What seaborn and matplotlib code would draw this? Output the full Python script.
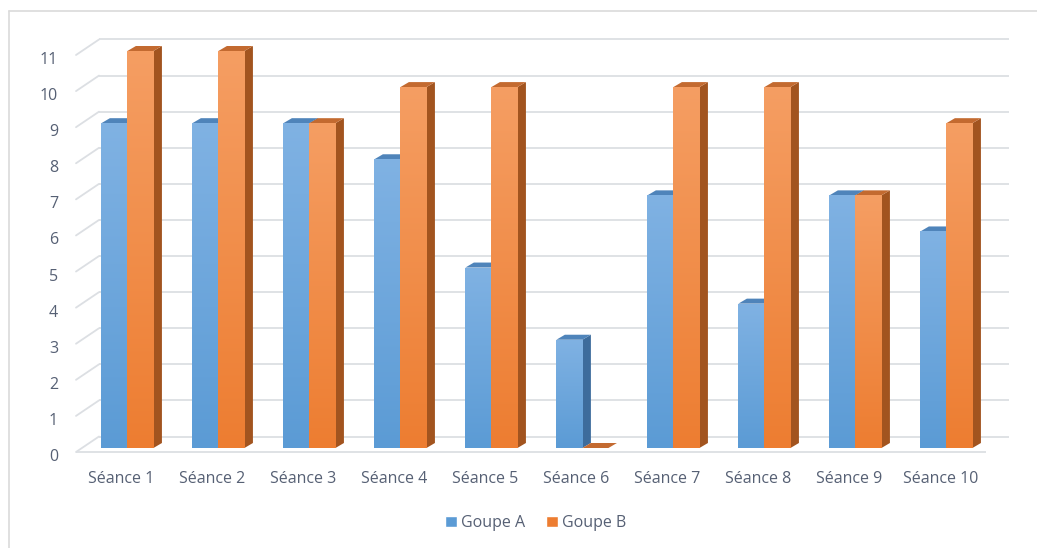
import numpy as np
import pandas as pd
import matplotlib
matplotlib.use("Agg")
import matplotlib.pyplot as plt
import matplotlib.transforms as mtransforms
from matplotlib.patches import Polygon
from matplotlib.lines import Line2D
from matplotlib.colors import LinearSegmentedColormap, to_rgb
import seaborn as sns

# ---- data -------------------------------------------------------------
seances = [f"Séance {i}" for i in range(1, 11)]
groupe_a = [9, 9, 9, 8, 5, 3, 7, 4, 7, 6]
groupe_b = [11, 11, 9, 10, 10, 0, 10, 10, 7, 9]
groups = ["Goupe A", "Goupe B"]
y_ticks = list(range(0, 12))

df = pd.DataFrame({
    "Séance": seances * 2,
    "Groupe": [groups[0]] * len(seances) + [groups[1]] * len(seances),
    "Score": groupe_a + groupe_b,
})

# ---- style --------------------------------------------------------------
sns.set_theme(style="white")
plt.rcParams["font.family"] = ["Open Sans", "DejaVu Sans"]
TEXT = "#566074"
GRID = "#dcdfe3"
FS = 11.5

base = {groups[0]: "#5B9BD5", groups[1]: "#ED7D31"}
light = {groups[0]: "#80B2E3", groups[1]: "#F59E63"}
top_c = {groups[0]: "#4F84BA", groups[1]: "#C36A30"}
side_c = {groups[0]: "#3D6C9C", groups[1]: "#A2541F"}

W, H = 1037, 548
fig = plt.figure(figsize=(W / 100, H / 100), dpi=100)
ax_l, ax_r, ax_b, ax_t = 76.0, 986.0, 452.0, 55.0
ax = fig.add_axes([ax_l / W, (H - ax_b) / H, (ax_r - ax_l) / W, (ax_b - ax_t) / H])

sns.barplot(data=df, x="Séance", y="Score", hue="Groupe", palette=base,
            width=0.572, gap=0, saturation=1, errorbar=None, ax=ax)

xlim = (-0.5, len(seances) - 0.5)
ylim = (0, 11)
ux = (ax_r - ax_l) / (xlim[1] - xlim[0])   # pixels per category
uy = (ax_b - ax_t) / (ylim[1] - ylim[0])   # pixels per unit

# depth of the floor / back wall and of the bars (converted to data units)
back_dx, back_dy = 23 / ux, 15.5 / uy
bar_fx, bar_fy = 5.9 / ux, 4.0 / uy
bar_dx, bar_dy = 8.5 / ux, 5.0 / uy

# ---- walls: gridlines on the back wall with their perspective edge -------
for v in y_ticks:
    ax.plot([xlim[0] + back_dx, xlim[1] + back_dx], [v + back_dy] * 2,
            color=GRID, lw=1.3, zorder=0.5, clip_on=False, solid_capstyle="butt")
    ax.plot([xlim[0], xlim[0] + back_dx], [v, v + back_dy],
            color=GRID, lw=1.3, zorder=0.5, clip_on=False)
ax.plot([xlim[0], xlim[1]], [0, 0], color=GRID, lw=1.3, zorder=0.6,
        clip_on=False, solid_capstyle="butt")

# ---- 3D bars --------------------------------------------------------------
def hue_of(patch):
    fc = np.array(patch.get_facecolor()[:3])
    dists = {g: np.abs(fc - np.array(to_rgb(c))).sum() for g, c in base.items()}
    return min(dists, key=dists.get)

bars = [p for p in ax.patches]
for p in bars:
    g = hue_of(p)
    order = groups.index(g)
    x0 = p.get_x() + bar_fx
    w = p.get_width()
    h = p.get_height()
    y0 = bar_fy
    z = 2 + order
    p.set_x(x0)
    p.set_y(y0)
    p.set_zorder(z + 0.3)
    p.set_edgecolor("none")
    p.set_clip_on(False)

    # side face
    side = Polygon([(x0 + w, y0), (x0 + w + bar_dx, y0 + bar_dy),
                    (x0 + w + bar_dx, y0 + h + bar_dy), (x0 + w, y0 + h)],
                   closed=True, facecolor=side_c[g], edgecolor="none",
                   zorder=z + 0.1, clip_on=False)
    ax.add_patch(side)
    # top face
    top = Polygon([(x0, y0 + h), (x0 + w, y0 + h),
                   (x0 + w + bar_dx, y0 + h + bar_dy), (x0 + bar_dx, y0 + h + bar_dy)],
                  closed=True, facecolor=top_c[g], edgecolor="none",
                  zorder=z + 0.2, clip_on=False)
    ax.add_patch(top)
    # vertical gradient on the front face
    if h > 0:
        cmap = LinearSegmentedColormap.from_list(g, [base[g], light[g]])
        grad = np.linspace(0, 1, 256).reshape(-1, 1)
        im = ax.imshow(grad, extent=(x0, x0 + w, y0, y0 + h), origin="lower",
                       aspect="auto", cmap=cmap, zorder=z + 0.4,
                       interpolation="bilinear")
        im.set_clip_path(p)

ax.set_xlim(*xlim)
ax.set_ylim(*ylim)
ax.set_yticks(y_ticks)
ax.set_xlabel("")
ax.set_ylabel("")
for s in ax.spines.values():
    s.set_visible(False)
ax.set_facecolor("white")
ax.tick_params(axis="y", length=0, pad=13, labelsize=FS, labelcolor=TEXT)
ax.tick_params(axis="x", length=0, pad=14, labelsize=FS, labelcolor=TEXT)

# nudge the value labels slightly down
nudge = mtransforms.ScaledTranslation(0, -3 / 100, fig.dpi_scale_trans)
for t in ax.get_yticklabels():
    t.set_transform(t.get_transform() + nudge)

sns.move_legend(ax, "center", bbox_to_anchor=(536 / W, 1 - 523 / H),
                bbox_transform=fig.transFigure, ncol=2, frameon=False,
                title=None, fontsize=FS, handlelength=0.7, handleheight=0.7,
                handletextpad=0.3, columnspacing=1.3, labelcolor=TEXT)

# chart area border
fig.add_artist(Line2D([8.5 / W, 8.5 / W], [0, 1 - 11 / H], color="#dadada", lw=1.2))
fig.add_artist(Line2D([8.5 / W, 1], [1 - 11 / H] * 2, color="#dadada", lw=1.2))

fig.savefig("out.png", dpi=100, facecolor="white")
